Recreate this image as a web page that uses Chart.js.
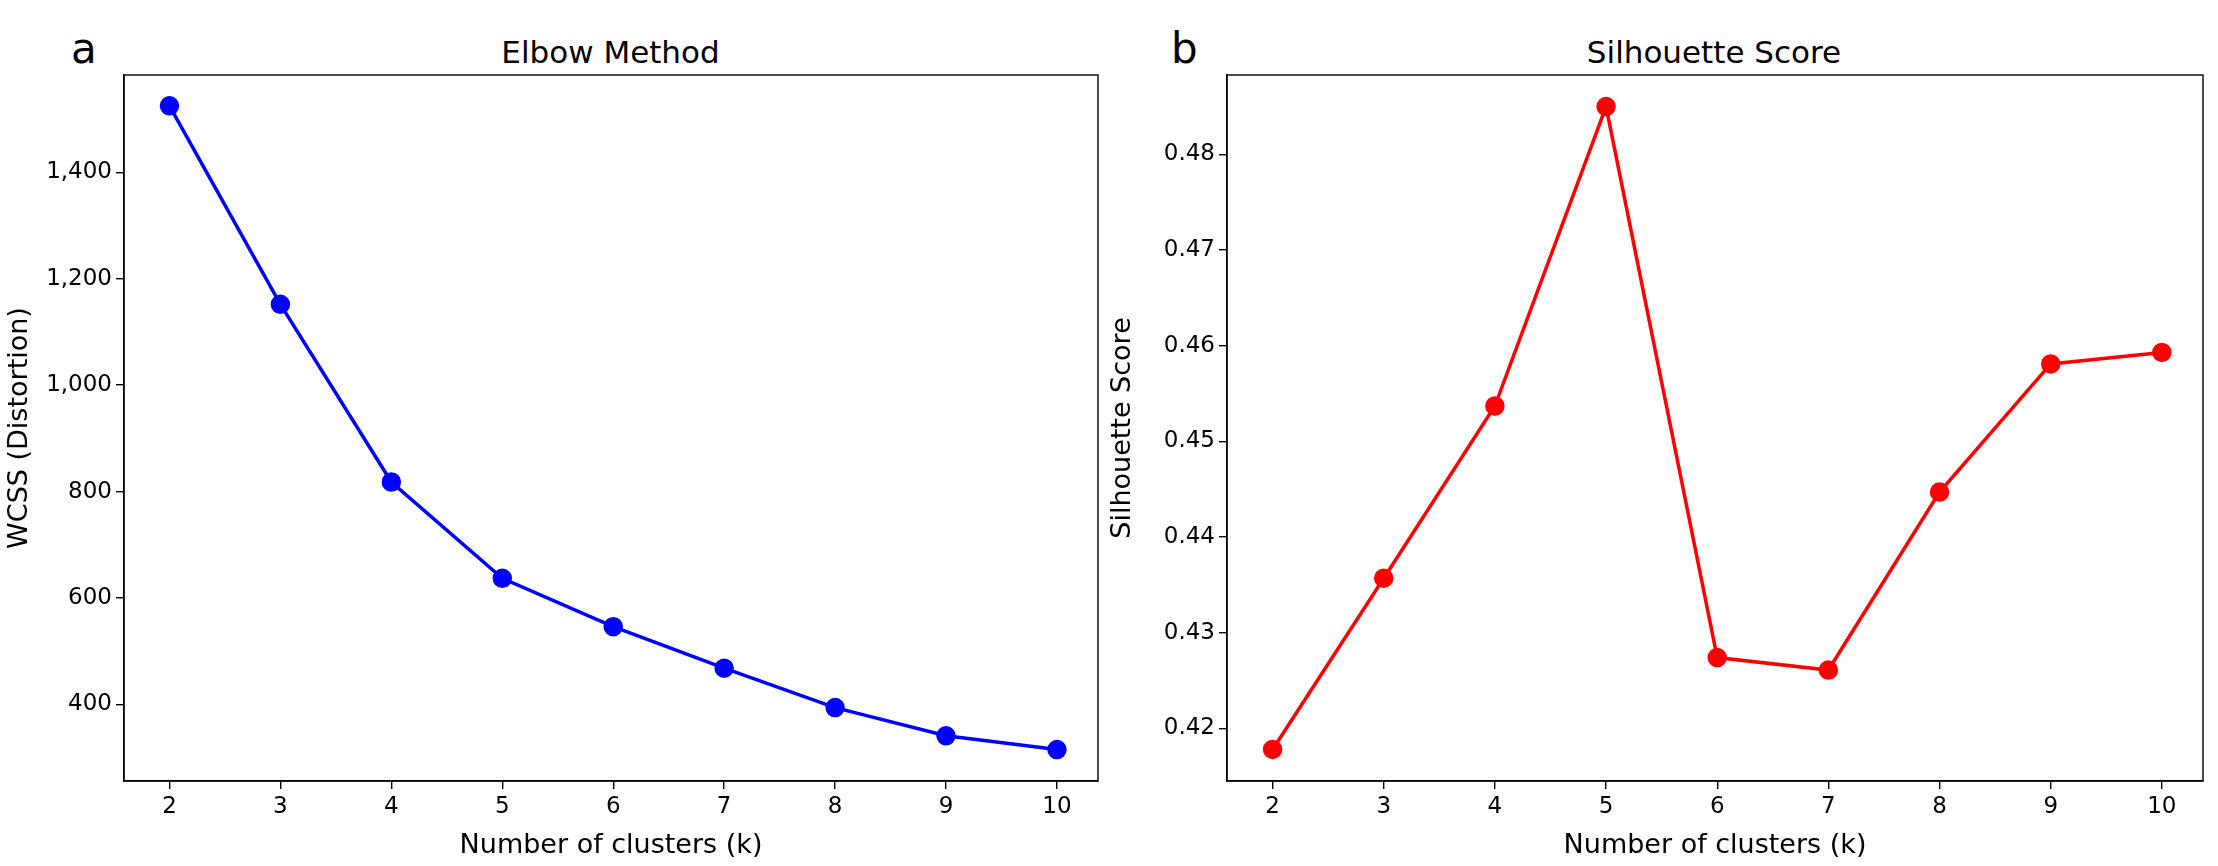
<!DOCTYPE html>
<html>
<head>
<meta charset="utf-8">
<script src="https://cdn.jsdelivr.net/npm/chart.js@4/dist/chart.umd.min.js"></script>
<style>
  body { margin: 0; background: #fff; width: 2218px; height: 866px; position: relative; overflow: hidden; font-family: "DejaVu Sans", sans-serif; }
  .panel { position: absolute; top: 0; width: 1132px; height: 866px; }
  .ttl { position: absolute; top: 34px; font-size: 31px; color: #000; text-align: center; }
  .lab { position: absolute; top: 24px; font-size: 42px; color: #000; }
</style>
</head>
<body>
<div class="lab" style="left:71px">a</div>
<div class="lab" style="left:1171px">b</div>
<div class="ttl" style="left:124px;width:973px">Elbow Method</div>
<div class="ttl" style="left:1228px;width:972px">Silhouette Score</div>
<div class="panel" style="left:0"><canvas id="elbow"></canvas></div>
<div class="panel" style="left:1103px"><canvas id="sil"></canvas></div>
<script>
const clusters = [2, 3, 4, 5, 6, 7, 8, 9, 10];
const wcss = [1525, 1152, 818, 637, 546, 468, 394, 341, 315];
const silhouette = [0.4178, 0.4357, 0.4537, 0.4850, 0.4274, 0.4261, 0.4447, 0.4581, 0.4593];
const wcssTicks = [400, 600, 800, 1000, 1200, 1400];
const silTicks = [0.42, 0.43, 0.44, 0.45, 0.46, 0.47, 0.48];

const frame = {
    id: 'frame',
    afterDraw(chart) {
        const a = chart.chartArea, c = chart.ctx;
        c.save();
        c.strokeStyle = '#000';
        c.lineWidth = 1.4;
        c.strokeRect(a.left, a.top, a.right - a.left, a.bottom - a.top);
        c.restore();
    }
};

function makeChart(id, values, color, yTitle, yTicks, yMin, yMax, fmt, padRight) {
    new Chart(document.getElementById(id), {
        type: 'line',
        data: {
            datasets: [{
                data: clusters.map((k, i) => ({ x: k, y: values[i] })),
                borderColor: color,
                backgroundColor: color,
                borderWidth: 3.5,
                pointRadius: 8,
                tension: 0
            }]
        },
        options: {
            responsive: false,
            animation: false,
            layout: { padding: { top: 75, right: padRight, bottom: 0, left: 0 } },
            plugins: { legend: { display: false }, tooltip: { enabled: false } },
            scales: {
                x: {
                    type: 'linear', min: 1.59, max: 10.37,
                    afterBuildTicks: s => { s.ticks = clusters.map(v => ({ value: v })); },
                    afterFit: s => { s.height = 85; },
                    grid: { drawOnChartArea: false, color: '#000', tickLength: 8, lineWidth: 1.4 },
                    border: { color: '#000', width: 1.4 },
                    ticks: { color: '#000', font: { size: 23, family: 'DejaVu Sans' }, padding: 4 },
                    title: { display: true, text: 'Number of clusters (k)', color: '#000', font: { size: 27, family: 'DejaVu Sans' }, padding: { top: 2 } }
                },
                y: {
                    min: yMin, max: yMax,
                    afterBuildTicks: s => { s.ticks = yTicks.map(v => ({ value: v })); },
                    afterFit: s => { s.width = 124; },
                    grid: { drawOnChartArea: false, color: '#000', tickLength: 8, lineWidth: 1.4 },
                    border: { color: '#000', width: 1.4 },
                    ticks: { color: '#000', font: { size: 23, family: 'DejaVu Sans' }, padding: 4 },
                    title: { display: true, text: yTitle, color: '#000', font: { size: 27, family: 'DejaVu Sans' }, padding: { bottom: 4 } }
                }
            }
        },
        plugins: [frame]
    });
}

for (const c of document.querySelectorAll('canvas')) { c.width = 1132; c.height = 866; }
makeChart('elbow', wcss, '#0000ff', 'WCSS (Distortion)', wcssTicks, 256, 1583, v => String(v), 34);
makeChart('sil', silhouette, '#ff0000', 'Silhouette Score', silTicks, 0.4145, 0.4883, v => v.toFixed(2), 32);
// tick format for silhouette axis
Chart.getChart('sil').options.scales.y.ticks.callback = v => v.toFixed(2);
Chart.getChart('sil').update();
</script>
</body>
</html>
